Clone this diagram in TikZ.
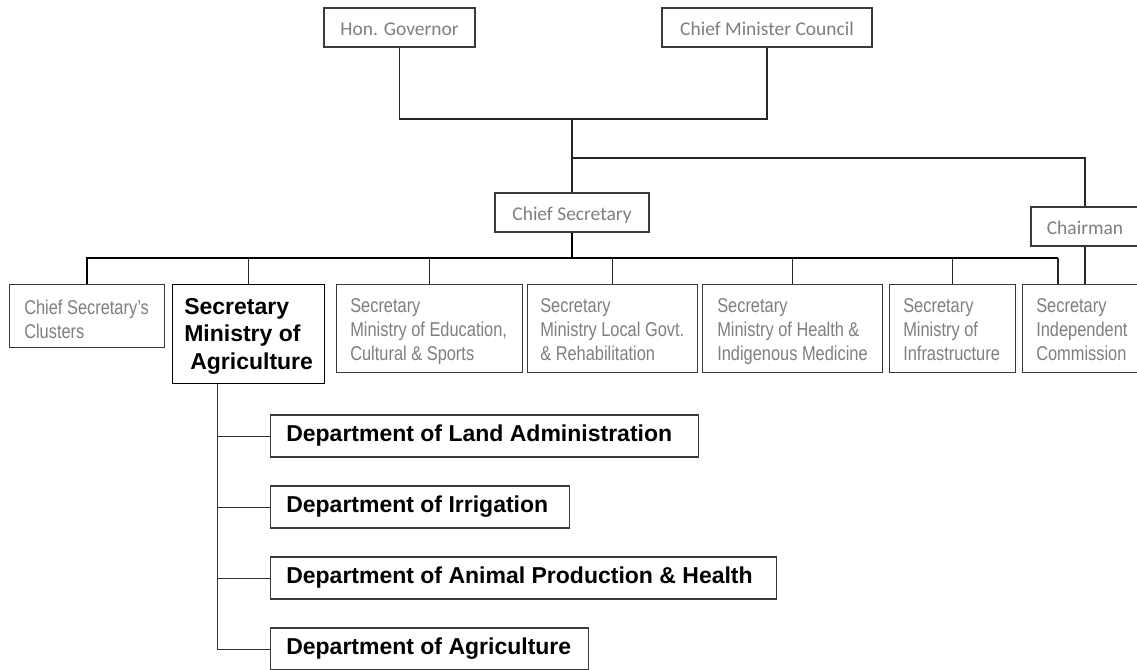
\documentclass[tikz,border=0pt]{standalone}
\usepackage{fontspec}
\setmainfont{Liberation Sans}
\newfontfamily\narrowf{Liberation Sans}[FakeStretch=0.82]
\newfontfamily\calf{Carlito}
\usetikzlibrary{calc}

\definecolor{labelgray}{HTML}{7F7F7F}
\definecolor{edgegray}{HTML}{3A3A3A}

\tikzset{
  box/.style={draw=edgegray, line width=0.9pt, fill=white, inner sep=0pt},
  calt/.style={font=\calf\fontsize{14.6pt}{17pt}\selectfont, text=labelgray,
    text height=12pt, text depth=0.4pt},
  nar/.style={font=\narrowf\fontsize{15pt}{18pt}\selectfont, text=labelgray,
    align=left, inner sep=0pt, anchor=north west},
  bld/.style={font=\bfseries\fontsize{17.25pt}{20.6pt}\selectfont, text=black,
    align=left, inner sep=0pt, anchor=west},
  link/.style={draw=black!85, line width=0.8pt},
  bus/.style={draw=black, line width=1.3pt},
  sublink/.style={draw=black!80, line width=0.75pt},
}

\begin{document}
\begin{tikzpicture}[x=0.75pt, y=-0.75pt]
\useasboundingbox (0,0) rectangle (1137,670);

% ---- top level ----
\node[box, calt, minimum width=113.25pt, minimum height=29.25pt] (gov) at (399.5,27.5) {Hon. Governor};
\node[box, calt, minimum width=157.5pt, minimum height=29.25pt] (cmc) at (767,27.5) {Chief Minister Council};
\node[box, calt, minimum width=115.5pt, minimum height=29.25pt] (cs) at (572,212.5) {Chief Secretary};
\node[box, calt, minimum width=81pt, minimum height=29.25pt] (chair) at (1085,226.5) {Chairman};

\coordinate (topbar) at (572,119);
\coordinate (chairbar) at (572,158);
\coordinate (busR) at (1058,258);

\draw[link] (gov.south) |- (topbar) -| (cmc.south);
\draw[link] (topbar) -- (cs.north);
\draw[link] (chairbar) -| (chair.north);

% ---- secretaries row ----
\node[box, anchor=north west, minimum width=116.25pt, minimum height=47.25pt] (csc) at (9,284) {};
\node[box, anchor=north west, minimum width=114pt, minimum height=74.25pt, line width=1.1pt, draw=black] (agr) at (172,284) {};
\node[box, anchor=north west, minimum width=139.5pt, minimum height=66pt] (edu) at (336,284) {};
\node[box, anchor=north west, minimum width=127.5pt, minimum height=66pt] (lgv) at (527,284) {};
\node[box, anchor=north west, minimum width=135pt, minimum height=66pt] (hlt) at (702,284) {};
\node[box, anchor=north west, minimum width=94.5pt, minimum height=66pt] (inf) at (889,284) {};
\node[box, anchor=north west, minimum width=93pt, minimum height=66pt] (ind) at (1022,284) {};

\node[nar] (csct) at ([xshift=11.25pt,yshift=-12pt]csc.north west) {Chief Secretary’s\\Clusters};
\node[bld] (agrt) at ([xshift=9pt,yshift=-1.5pt]agr.west) {Secretary\\Ministry of\\\hspace*{4.5pt}Agriculture};
\node[nar] (edut) at ([xshift=10.5pt,yshift=-10.5pt]edu.north west) {Secretary\\Ministry of Education,\\Cultural \& Sports};
\node[nar] (lgvt) at ([xshift=9.75pt,yshift=-10.5pt]lgv.north west) {Secretary\\Ministry Local Govt.\\\& Rehabilitation};
\node[nar] (hltt) at ([xshift=11.25pt,yshift=-10.5pt]hlt.north west) {Secretary\\Ministry of Health \&\\Indigenous Medicine};
\node[nar] (inft) at ([xshift=10.5pt,yshift=-10.5pt]inf.north west) {Secretary\\Ministry of\\Infrastructure};
\node[nar] (indt) at ([xshift=10.5pt,yshift=-10.5pt]ind.north west) {Secretary\\Independent\\Commission};

% bus under the Chief Secretary
\draw[bus] (csc.north) |- (busR);
\draw[link] (busR) -- (busR |- ind.north);
\draw[bus] (cs.south) -- (cs.south |- busR);
\foreach \n in {agr, edu, lgv, hlt, inf}
  \draw[link] (\n.north) -- (\n.north |- busR);
\draw[link] (chair.south) -- (chair.south |- ind.north);

% ---- departments ----
\node[box, anchor=west, minimum width=321pt, minimum height=31.5pt] (d1) at (270,436) {};
\node[box, anchor=west, minimum width=224.25pt, minimum height=31.5pt] (d2) at (270,507) {};
\node[box, anchor=west, minimum width=379.5pt, minimum height=31.5pt] (d3) at (270,578) {};
\node[box, anchor=west, minimum width=238.5pt, minimum height=31.5pt] (d4) at (270,649) {};

\node[bld] (d1t) at ([xshift=12pt]d1.west) {Department of Land Administration};
\node[bld] (d2t) at ([xshift=12pt]d2.west) {Department of Irrigation};
\node[bld] (d3t) at ([xshift=12pt]d3.west) {Department of Animal Production \& Health};
\node[bld] (d4t) at ([xshift=12pt]d4.west) {Department of Agriculture};

\coordinate (stem) at ([xshift=33.75pt]agr.south west);
\draw[sublink] (stem) |- (d4.west);
\foreach \d in {d1, d2, d3}
  \draw[sublink] (stem |- \d.west) -- (\d.west);
\end{tikzpicture}
\end{document}
